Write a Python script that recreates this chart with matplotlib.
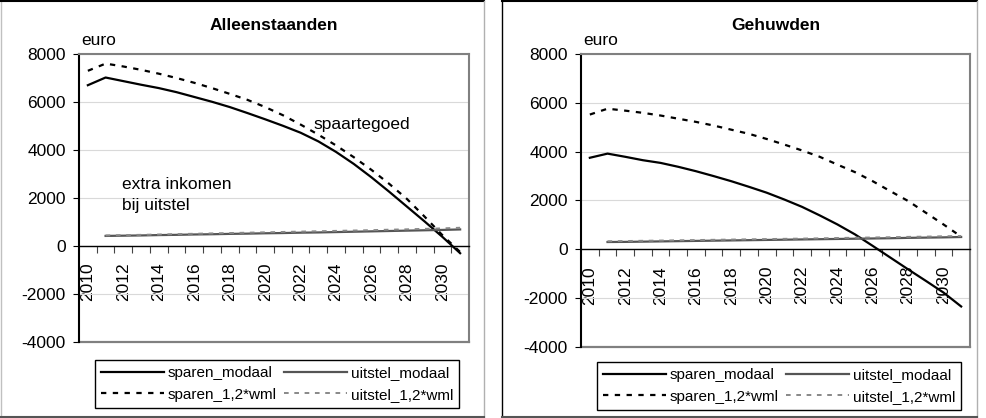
import matplotlib
matplotlib.use("Agg")
from matplotlib import pyplot as plt
from matplotlib.lines import Line2D
from matplotlib.ticker import MultipleLocator

plt.rcParams['font.family'] = ['Liberation Sans', 'DejaVu Sans']
plt.rcParams['axes.unicode_minus'] = False

years = list(range(2010, 2032))
years_uitstel = years[1:]
year_labels = [str(y) for y in range(2010, 2031, 2)]

# Alleenstaanden
sparen_modaal_a = [6700, 7020, 6870, 6720, 6580, 6410, 6210, 6010, 5790, 5540, 5280,
                   5010, 4720, 4360, 3920, 3420, 2860, 2260, 1640, 1020, 380, -300]
sparen_wml_a = [7300, 7600, 7480, 7340, 7180, 7000, 6800, 6580, 6340, 6090, 5790,
                5450, 5060, 4640, 4190, 3700, 3170, 2590, 1960, 1220, 450, -250]
uitstel_modaal_a = [420, 430, 440, 455, 465, 480, 490, 505, 515, 530, 540,
                    555, 565, 580, 595, 610, 625, 640, 655, 670, 690]
uitstel_wml_a = [440, 455, 465, 480, 495, 510, 525, 540, 555, 570, 585,
                 600, 615, 630, 645, 660, 680, 695, 715, 735, 760]

# Gehuwden
sparen_modaal_g = [3750, 3920, 3790, 3650, 3540, 3380, 3200, 3000, 2790, 2560, 2320,
                   2040, 1740, 1390, 1020, 610, 140, -340, -820, -1290, -1770, -2340]
sparen_wml_g = [5520, 5760, 5680, 5590, 5480, 5350, 5220, 5070, 4900, 4730, 4520,
                4290, 4050, 3790, 3470, 3160, 2790, 2380, 1980, 1500, 1020, 520]
uitstel_modaal_g = [300, 305, 315, 325, 335, 345, 355, 365, 375, 385, 395,
                    405, 415, 425, 435, 445, 455, 470, 480, 490, 505]
uitstel_wml_g = [330, 340, 350, 360, 370, 380, 390, 400, 410, 420, 430,
                 440, 450, 465, 475, 485, 495, 510, 520, 535, 545]

W, H = 987, 418
fig = plt.figure(figsize=(W / 100, H / 100), dpi=100)


def fx(px):
    return px / W


def fy(py):
    return 1 - py / H


def panel(rect, title, sm, sw, um, uw, legend_box):
    ax = fig.add_axes(rect)
    ax.plot(years, sm, color='black', lw=1.6, label='sparen_modaal')
    ax.plot(years_uitstel, um, color='#555555', lw=1.6, label='uitstel_modaal')
    ax.plot(years, sw, color='black', lw=1.6, ls=(0, (2.4, 2.9)), label='sparen_1,2*wml')
    ax.plot(years_uitstel, uw, color='#888888', lw=1.4, ls=(0, (2.4, 2.9)), label='uitstel_1,2*wml')

    ax.set_xlim(2009.5, 2031.5)
    ax.set_ylim(-4000, 8000)
    ax.yaxis.set_major_locator(MultipleLocator(2000))
    ax.grid(axis='y', color='#d9d9d9', lw=0.8)
    ax.set_axisbelow(True)

    ax.spines['bottom'].set_position(('data', 0))
    ax.spines['bottom'].set_color('black')
    ax.spines['bottom'].set_linewidth(1.0)
    ax.spines['left'].set_color('black')
    ax.spines['left'].set_linewidth(1.5)
    for s in ['top', 'right']:
        ax.spines[s].set_color('#808080')
        ax.spines[s].set_linewidth(1.5)
    # grey line at the bottom of the plot box
    ax.plot([0, 1], [0, 0], transform=ax.transAxes, color='#808080', lw=1.6,
            clip_on=False)

    ax.set_xticks(range(2010, 2031, 2))
    ax.set_xticklabels(year_labels, rotation=90, fontsize=12.5)
    ax.set_xticks([y + 0.5 for y in years[:-1]], minor=True)
    ax.tick_params(axis='x', which='major', length=0, pad=12)
    ax.tick_params(axis='x', which='minor', direction='out', length=5, width=0.8, color='#444444')
    ax.tick_params(axis='y', direction='out', length=4.5, width=0.8, pad=5, labelsize=12.5)

    ax.set_title(title, fontsize=12.5, fontweight='bold', pad=17)
    ax.text(0.005, 1.02, 'euro', transform=ax.transAxes, fontsize=12.5, ha='left', va='bottom')

    h, l = ax.get_legend_handles_labels()
    order = [0, 2, 1, 3]
    fig.legend([h[i] for i in order], [l[i] for i in order], ncol=2,
               loc='upper left', bbox_to_anchor=legend_box, borderaxespad=0,
               fontsize=11, frameon=True, fancybox=False, edgecolor='black',
               framealpha=1, borderpad=0.4, handlelength=4.1, handletextpad=0.25,
               columnspacing=0.5, labelspacing=0.5)
    return ax


ax1 = panel([fx(79), fy(342), fx(469) - fx(79), fy(54) - fy(342)], 'Alleenstaanden',
            sparen_modaal_a, sparen_wml_a, uitstel_modaal_a, uitstel_wml_a,
            (fx(95), fy(360)))
ax1.text(2022.75, 5050, 'spaartegoed', fontsize=12.5, ha='left', va='center')
ax1.text(2011.9, 2120, 'extra inkomen\nbij uitstel', fontsize=12.5, ha='left', va='center',
         linespacing=1.55)

ax2 = panel([fx(581), fy(347), fx(970) - fx(581), fy(54) - fy(347)], 'Gehuwden',
            sparen_modaal_g, sparen_wml_g, uitstel_modaal_g, uitstel_wml_g,
            (fx(597), fy(362)))


# panel borders
def border(x0, x1, y0, y1, left_c, top_c, right_c, bottom_c):
    fig.add_artist(Line2D([fx(x0), fx(x0)], [fy(y0), fy(y1)], color=left_c, lw=1))
    fig.add_artist(Line2D([fx(x0), fx(x1)], [fy(y0), fy(y0)], color=top_c, lw=1.5))
    fig.add_artist(Line2D([fx(x1), fx(x1)], [fy(y0), fy(y1)], color=right_c, lw=1))
    fig.add_artist(Line2D([fx(x0), fx(x1)], [fy(y1), fy(y1)], color=bottom_c, lw=1.5))


border(0.5, 484, 0.5, 417, '#c0c0c0', 'black', '#b0b0b0', '#555555')
border(502, 977, 0.5, 417, 'black', 'black', '#b0b0b0', '#555555')

fig.savefig('out.png', dpi=100)
